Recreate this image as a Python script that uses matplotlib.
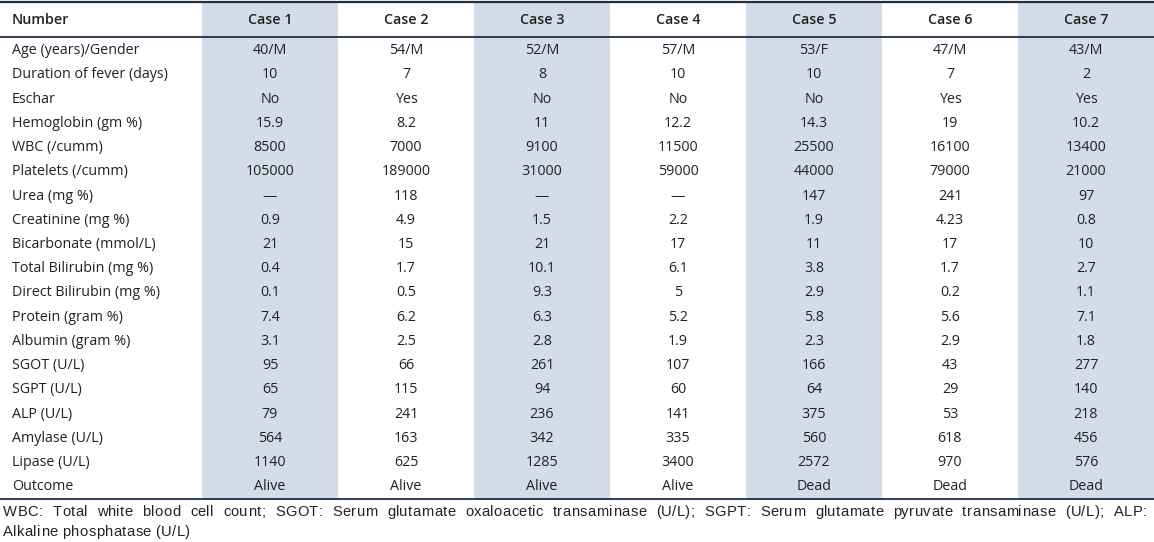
import matplotlib
matplotlib.use("Agg")
import matplotlib.pyplot as plt
from matplotlib.patches import Rectangle
from matplotlib.textpath import TextPath
from matplotlib.font_manager import FontProperties

header = ["Number", "Case 1", "Case 2", "Case 3", "Case 4", "Case 5", "Case 6", "Case 7"]
row_labels = ["Age (years)/Gender", "Duration of fever (days)", "Eschar", "Hemoglobin (gm %)",
              "WBC (/cumm)", "Platelets (/cumm)", "Urea (mg %)", "Creatinine (mg %)",
              "Bicarbonate (mmol/L)", "Total Bilirubin (mg %)", "Direct Bilirubin (mg %)",
              "Protein (gram %)", "Albumin (gram %)", "SGOT (U/L)", "SGPT (U/L)", "ALP (U/L)",
              "Amylase (U/L)", "Lipase (U/L)", "Outcome"]
age_gender = ["40/M", "54/M", "52/M", "57/M", "53/F", "47/M", "43/M"]
fever_days = ["10", "7", "8", "10", "10", "7", "2"]
eschar = ["No", "Yes", "No", "No", "No", "Yes", "Yes"]
hemoglobin = ["15.9", "8.2", "11", "12.2", "14.3", "19", "10.2"]
wbc = ["8500", "7000", "9100", "11500", "25500", "16100", "13400"]
platelets = ["105000", "189000", "31000", "59000", "44000", "79000", "21000"]
urea = ["\u2014", "118", "\u2014", "\u2014", "147", "241", "97"]
creatinine = ["0.9", "4.9", "1.5", "2.2", "1.9", "4.23", "0.8"]
bicarbonate = ["21", "15", "21", "17", "11", "17", "10"]
total_bili = ["0.4", "1.7", "10.1", "6.1", "3.8", "1.7", "2.7"]
direct_bili = ["0.1", "0.5", "9.3", "5", "2.9", "0.2", "1.1"]
protein = ["7.4", "6.2", "6.3", "5.2", "5.8", "5.6", "7.1"]
albumin = ["3.1", "2.5", "2.8", "1.9", "2.3", "2.9", "1.8"]
sgot = ["95", "66", "261", "107", "166", "43", "277"]
sgpt = ["65", "115", "94", "60", "64", "29", "140"]
alp = ["79", "241", "236", "141", "375", "53", "218"]
amylase = ["564", "163", "342", "335", "560", "618", "456"]
lipase = ["1140", "625", "1285", "3400", "2572", "970", "576"]
outcome = ["Alive", "Alive", "Alive", "Alive", "Dead", "Dead", "Dead"]
footnote = ("WBC: Total white blood cell count; SGOT: Serum glutamate oxaloacetic transaminase (U/L); "
            "SGPT: Serum glutamate pyruvate transaminase (U/L); ALP: Alkaline phosphatase (U/L)")

rows = [age_gender, fever_days, eschar, hemoglobin, wbc, platelets, urea, creatinine,
        bicarbonate, total_bili, direct_bili, protein, albumin, sgot, sgpt, alp,
        amylase, lipase, outcome]

W, H = 1154, 542
fig = plt.figure(figsize=(W / 100, H / 100), dpi=100)
ax = fig.add_axes([0, 0, 1, 1])
ax.set_xlim(0, W)
ax.set_ylim(H, 0)
ax.axis("off")

line_col = "#1c2e40"
shade = "#d3dce8"
txt = "#222222"
font = "Open Sans"
fs = 10.3

label_w = 202
col_w = (W - label_w) / 7
top, head_bot, bot = 1.5, 36.5, 499
row_h = (bot - head_bot - 2) / len(rows)

for i in range(7):
    if i % 2 == 0:
        ax.add_patch(Rectangle((label_w + i * col_w, top), col_w, bot - top,
                               facecolor=shade, edgecolor="none", zorder=0))

ax.plot([0, W], [top, top], color=line_col, lw=1.6, zorder=2)
ax.plot([0, W], [head_bot, head_bot], color=line_col, lw=1.3, zorder=2)
ax.plot([0, W], [bot, bot], color=line_col, lw=1.3, zorder=2)

hy = (top + head_bot) / 2 + 0.5
ax.text(12, hy, header[0], ha="left", va="center", fontsize=fs, fontweight="semibold",
        family=font, color=txt)
for i in range(7):
    ax.text(label_w + (i + 0.5) * col_w, hy, header[i + 1], ha="center", va="center",
            fontsize=fs, fontweight="semibold", family=font, color=txt)

for r, (lab, vals) in enumerate(zip(row_labels, rows)):
    y = head_bot + 2 + (r + 0.5) * row_h
    ax.text(12, y, lab, ha="left", va="center", fontsize=fs, family=font, color=txt)
    for i, v in enumerate(vals):
        ax.text(label_w + (i + 0.5) * col_w, y, v, ha="center", va="center",
                fontsize=fs, family=font, color=txt)

# footnote: letter-spaced, first line justified
ffs = 10.6
fprop = FontProperties(family="Liberation Sans", size=ffs)
px_per_pt = 100 / 72.0
track = 0.45  # extra px between letters


def char_adv(ch):
    if ch == " ":
        return TextPath((0, 0), "a a", prop=fprop).get_extents().width * px_per_pt - \
            TextPath((0, 0), "aa", prop=fprop).get_extents().width * px_per_pt
    w1 = TextPath((0, 0), "H" + ch + "H", prop=fprop).get_extents().width
    w0 = TextPath((0, 0), "HH", prop=fprop).get_extents().width
    return (w1 - w0) * px_per_pt


def word_width(wd):
    return sum(char_adv(c) + track for c in wd) - track


def draw_word(wd, x, y):
    for c in wd:
        ax.text(x, y, c, ha="left", va="baseline", fontproperties=fprop, color=txt)
        x += char_adv(c) + track
    return x


words = footnote.split(" ")
first_n = words.index("ALP:") + 1
line1, line2 = words[:first_n], words[first_n:]
x0, x1 = 3, 1147
y1, y2 = 516, 536
widths = [word_width(w_) for w_ in line1]
gap = (x1 - x0 - sum(widths)) / (len(line1) - 1)
x = x0
for w_, wd in zip(line1, widths):
    draw_word(w_, x, y1)
    x += wd + gap
space = char_adv(" ") + track
x = x0
for w_ in line2:
    x = draw_word(w_, x, y2) - track + space

fig.savefig("out.png", dpi=100)
